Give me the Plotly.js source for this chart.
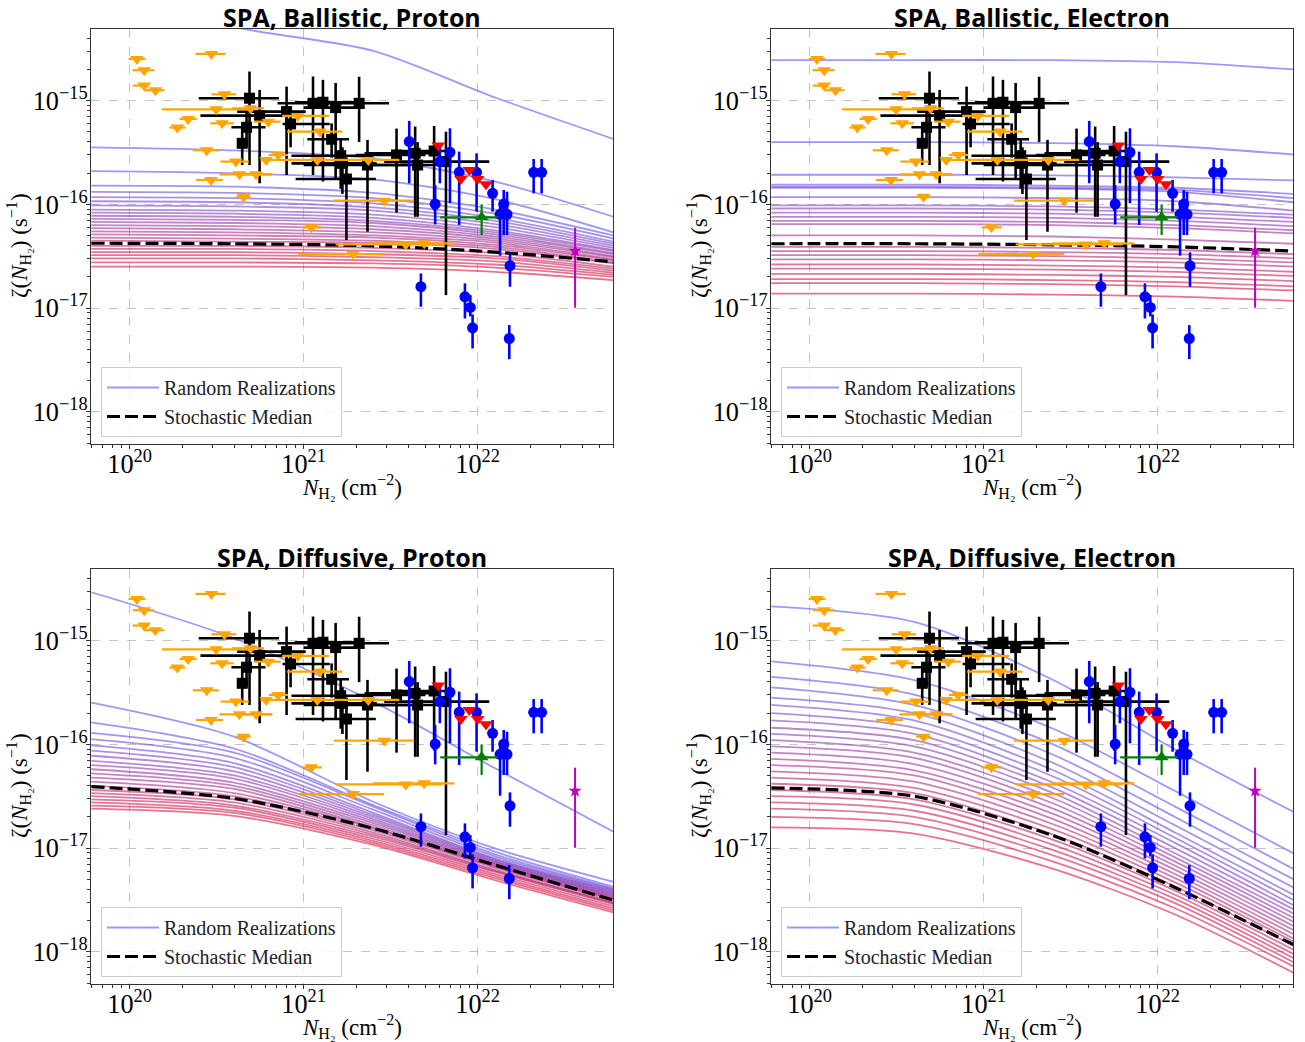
<!DOCTYPE html>
<html><head><meta charset="utf-8">
<script src="https://cdn.plot.ly/plotly-3.0.1.min.js"></script>
<style>body{margin:0;background:#fff}#chart{width:1305px;height:1042px}</style>
</head><body><div id="chart"></div>
<script>
// ---------- DATA (log10 values) ----------
const panelTitles = ["SPA, Ballistic, Proton", "SPA, Ballistic, Electron", "SPA, Diffusive, Proton", "SPA, Diffusive, Electron"];
const legendLabels = ["Random Realizations", "Stochastic Median"];
const xAxisLabel = '<i>N</i><sub>H₂</sub> (cm<sup>−2</sup>)';
const yAxisLabel = 'ζ(<i>N</i><sub>H₂</sub>) (s<sup>−1</sup>)';

// column-density nodes at which the model curves were read (log10 N_H2)
const nodeLogN = [19.78, 20.6, 21.4, 22.1, 22.78];

// Ballistic, Proton: random realizations (log10 zeta at nodeLogN), top to bottom
const curvesBallisticProton = [
  [-13.90, -14.29, -14.52, -14.97, -15.37],
  [-15.45, -15.48, -15.56, -15.78, -16.12],
  [-15.68, -15.70, -15.76, -15.95, -16.27],
  [-15.82, -15.83, -15.89, -16.05, -16.30],
  [-15.88, -15.89, -15.94, -16.09, -16.33],
  [-15.93, -15.94, -15.99, -16.13, -16.36],
  [-15.97, -15.98, -16.03, -16.16, -16.38],
  [-16.01, -16.02, -16.06, -16.19, -16.40],
  [-16.05, -16.06, -16.10, -16.22, -16.42],
  [-16.08, -16.09, -16.13, -16.25, -16.44],
  [-16.11, -16.12, -16.16, -16.27, -16.45],
  [-16.14, -16.15, -16.18, -16.29, -16.47],
  [-16.17, -16.18, -16.21, -16.31, -16.48],
  [-16.20, -16.21, -16.24, -16.33, -16.50],
  [-16.23, -16.24, -16.27, -16.35, -16.51],
  [-16.26, -16.27, -16.30, -16.37, -16.53],
  [-16.29, -16.30, -16.32, -16.39, -16.54],
  [-16.32, -16.33, -16.35, -16.41, -16.56],
  [-16.35, -16.36, -16.37, -16.43, -16.57],
  [-16.40, -16.40, -16.42, -16.47, -16.60],
  [-16.43, -16.43, -16.45, -16.50, -16.62],
  [-16.46, -16.46, -16.48, -16.52, -16.64],
  [-16.49, -16.49, -16.51, -16.55, -16.66],
  [-16.52, -16.52, -16.54, -16.58, -16.68],
  [-16.56, -16.56, -16.57, -16.61, -16.70],
  [-16.60, -16.60, -16.61, -16.65, -16.73]
];
const medianBallisticProton = [-16.375, -16.38, -16.40, -16.46, -16.555];

// Ballistic, Electron
const curvesBallisticElectron = [
  [-14.61, -14.61, -14.61, -14.63, -14.70],
  [-15.40, -15.40, -15.41, -15.44, -15.52],
  [-15.715, -15.715, -15.72, -15.74, -15.77],
  [-15.81, -15.81, -15.82, -15.84, -15.90],
  [-15.83, -15.83, -15.84, -15.86, -15.94],
  [-15.84, -15.84, -15.85, -15.88, -15.98],
  [-15.93, -15.93, -15.94, -15.97, -16.06],
  [-16.01, -16.01, -16.02, -16.05, -16.10],
  [-16.04, -16.04, -16.05, -16.08, -16.13],
  [-16.08, -16.08, -16.09, -16.12, -16.17],
  [-16.12, -16.12, -16.13, -16.16, -16.21],
  [-16.16, -16.16, -16.17, -16.20, -16.25],
  [-16.19, -16.19, -16.20, -16.23, -16.28],
  [-16.30, -16.30, -16.31, -16.34, -16.38],
  [-16.41, -16.41, -16.42, -16.44, -16.48],
  [-16.45, -16.45, -16.46, -16.48, -16.52],
  [-16.49, -16.49, -16.50, -16.52, -16.56],
  [-16.53, -16.53, -16.54, -16.56, -16.60],
  [-16.58, -16.58, -16.59, -16.61, -16.65],
  [-16.62, -16.62, -16.63, -16.65, -16.69],
  [-16.67, -16.67, -16.68, -16.70, -16.74],
  [-16.72, -16.72, -16.73, -16.75, -16.79],
  [-16.76, -16.76, -16.77, -16.79, -16.83],
  [-16.86, -16.86, -16.87, -16.89, -16.93]
];
const medianBallisticElectron = [-16.38, -16.38, -16.39, -16.41, -16.45];

// Diffusive, Proton
const curvesDiffusiveProton = [
  [-14.534, -14.977, -15.588, -16.231, -16.842],
  [-15.598, -15.926, -16.553, -17.003, -17.325],
  [-15.788, -16.04, -16.585, -17.035, -17.373],
  [-15.89, -16.08, -16.60, -17.06, -17.39],
  [-15.95, -16.13, -16.63, -17.08, -17.40],
  [-16.01, -16.18, -16.66, -17.10, -17.41],
  [-16.06, -16.22, -16.68, -17.11, -17.42],
  [-16.11, -16.26, -16.70, -17.12, -17.43],
  [-16.16, -16.30, -16.72, -17.13, -17.44],
  [-16.20, -16.33, -16.74, -17.14, -17.45],
  [-16.24, -16.37, -16.76, -17.15, -17.46],
  [-16.28, -16.40, -16.78, -17.16, -17.47],
  [-16.32, -16.43, -16.80, -17.17, -17.48],
  [-16.36, -16.47, -16.81, -17.18, -17.49],
  [-16.40, -16.50, -16.83, -17.19, -17.50],
  [-16.44, -16.53, -16.85, -17.21, -17.52],
  [-16.47, -16.56, -16.87, -17.22, -17.53],
  [-16.50, -16.59, -16.89, -17.23, -17.54],
  [-16.53, -16.61, -16.91, -17.25, -17.56],
  [-16.56, -16.64, -16.93, -17.27, -17.58],
  [-16.59, -16.66, -16.95, -17.29, -17.60],
  [-16.62, -16.69, -16.97, -17.31, -17.62]
];
const medianDiffusiveProton = [-16.408, -16.521, -16.810, -17.164, -17.502];

// Diffusive, Electron
const curvesDiffusiveElectron = [
  [-14.67, -14.82, -15.38, -16.05, -16.65],
  [-15.20, -15.38, -15.85, -16.45, -17.05],
  [-15.35, -15.52, -16.00, -16.60, -17.20],
  [-15.45, -15.62, -16.10, -16.70, -17.30],
  [-15.55, -15.70, -16.18, -16.78, -17.38],
  [-15.62, -15.77, -16.25, -16.85, -17.45],
  [-15.70, -15.84, -16.31, -16.90, -17.50],
  [-15.77, -15.90, -16.37, -16.95, -17.55],
  [-15.84, -15.96, -16.42, -17.00, -17.59],
  [-15.90, -16.02, -16.47, -17.05, -17.63],
  [-15.96, -16.08, -16.52, -17.09, -17.67],
  [-16.02, -16.13, -16.57, -17.13, -17.71],
  [-16.08, -16.19, -16.62, -17.17, -17.75],
  [-16.14, -16.25, -16.67, -17.21, -17.79],
  [-16.20, -16.30, -16.72, -17.25, -17.83],
  [-16.26, -16.36, -16.77, -17.29, -17.87],
  [-16.32, -16.42, -16.82, -17.33, -17.90],
  [-16.38, -16.47, -16.87, -17.37, -17.94],
  [-16.44, -16.53, -16.92, -17.41, -17.98],
  [-16.50, -16.58, -16.97, -17.45, -18.02],
  [-16.56, -16.64, -17.02, -17.49, -18.06],
  [-16.62, -16.70, -17.07, -17.53, -18.10],
  [-16.70, -16.77, -17.13, -17.58, -18.14],
  [-16.80, -16.86, -17.20, -17.64, -18.20]
];
const medianDiffusiveElectron = [-16.42, -16.50, -16.88, -17.38, -17.93];

// Observations (log10 N_H2, log10 zeta)
// orange upper limits with horizontal ranges
const orangeLogN   = [20.042,20.084,20.084,20.148,20.470,20.545,20.497,20.695,20.336,20.274,20.532,20.797,20.967,21.094,20.443,20.610,20.785,20.854,21.079,21.372,20.631,20.727,20.468,20.655,21.463,21.044,21.284,21.587,21.693];
const orangeLogZ   = [-14.598,-14.707,-14.855,-14.900,-14.550,-14.939,-15.084,-15.074,-15.177,-15.260,-15.219,-15.203,-15.148,-15.299,-15.479,-15.588,-15.572,-15.524,-15.572,-15.572,-15.711,-15.711,-15.765,-15.926,-15.965,-16.222,-16.479,-16.386,-16.376];
const orangeLogNLo = [19.994,20.017,20.017,20.084,20.378,20.470,20.186,20.589,20.286,20.228,20.464,20.714,20.877,20.906,20.363,20.522,20.752,20.80,20.90,21.22,20.516,20.62,20.382,20.612,21.175,20.988,20.969,21.184,21.395];
const orangeLogNHi = [20.090,20.142,20.109,20.200,20.551,20.612,20.685,20.772,20.386,20.321,20.599,20.868,21.146,21.223,20.512,20.685,20.93,20.91,21.22,21.55,20.82,20.82,20.536,20.695,21.635,21.104,21.463,21.798,21.866];

// black squares with x and y ranges
const blackLogN   = [20.689,20.747,20.672,20.647,20.902,20.925,21.054,21.111,21.184,21.161,21.213,21.223,21.246,21.319,21.367,21.534,21.641,21.655,21.750,21.818];
const blackLogZ   = [-14.977,-15.145,-15.257,-15.412,-15.106,-15.225,-15.026,-15.016,-15.068,-15.373,-15.531,-15.605,-15.756,-15.026,-15.621,-15.524,-15.508,-15.621,-15.486,-15.588];
const blackLogNLo = [20.397,20.407,20.585,20.62,20.618,20.879,20.85,20.95,21.0,21.021,20.93,20.93,20.954,21.10,21.0,21.30,21.35,21.35,21.55,21.463];
const blackLogNHi = [20.858,20.896,20.781,20.68,21.012,21.15,21.22,21.30,21.35,21.261,21.40,21.42,21.415,21.491,21.60,21.70,21.75,21.80,21.85,22.067];
const blackLogZLo = [-15.621,-15.797,-15.45,-15.621,-15.717,-15.45,-15.717,-15.78,-15.75,-15.55,-15.85,-15.90,-16.344,-15.40,-16.264,-16.08,-16.12,-16.12,-16.06,-16.875];
const blackLogZHi = [-14.720,-14.897,-15.10,-15.267,-14.865,-15.10,-14.768,-14.80,-14.83,-15.22,-15.38,-15.45,-15.55,-14.77,-15.379,-15.27,-15.25,-15.40,-15.245,-15.30];

// blue circles with vertical ranges
const blueLogN   = [21.607,21.783,21.841,21.894,21.994,22.086,22.150,22.129,22.169,21.756,22.322,22.368,21.674,21.927,21.958,21.971,22.182,22.186];
const blueLogZ   = [-15.395,-15.588,-15.498,-15.691,-15.691,-15.894,-15.997,-16.096,-16.096,-15.997,-15.691,-15.691,-16.794,-16.891,-16.994,-17.190,-17.293,-16.592];
const blueLogZLo = [-15.797,-15.797,-15.990,-16.199,-16.071,-16.071,-16.296,-16.495,-16.296,-16.193,-15.894,-15.894,-16.987,-17.100,-17.080,-17.389,-17.492,-16.794];
const blueLogZHi = [-15.196,-15.412,-15.267,-15.492,-15.508,-15.765,-15.862,-15.990,-15.878,-15.814,-15.563,-15.563,-16.666,-16.762,-16.875,-17.061,-17.164,-16.463];

// red upper limits
const redLogN = [21.774,21.952,21.904,22.000,22.048];
const redLogZ = [-15.434,-15.669,-15.756,-15.756,-15.807];

// green point
const greenLogN = [22.023], greenLogZ = [-16.125];
const greenLogNLo = [21.785], greenLogNHi = [22.115], greenLogZLo = [-16.296], greenLogZHi = [-16.0];

// magenta star
const magentaLogN = [22.560], magentaLogZ = [-16.450];
const magentaLogZLo = [-16.997], magentaLogZHi = [-16.225];

// ---------- BUILD ----------
const P = v => Math.pow(10, v);
const panelCurves = [curvesBallisticProton, curvesBallisticElectron, curvesDiffusiveProton, curvesDiffusiveElectron];
const panelMedians = [medianBallisticProton, medianBallisticElectron, medianDiffusiveProton, medianDiffusiveElectron];

function curveColor(t) {
  const a = [85, 85, 255], b = [220, 20, 60];
  const c = a.map((v, i) => Math.round(v + (b[i] - v) * t));
  return `rgb(${c[0]},${c[1]},${c[2]})`;
}
function errs(v, lo, hi) {
  return {
    plus: v.map((y, i) => P(hi[i]) - P(y)),
    minus: v.map((y, i) => P(y) - P(lo[i]))
  };
}

const traces = [];
const xNodes = nodeLogN.map(P);
for (let p = 0; p < 4; p++) {
  const xa = p === 0 ? 'x' : 'x' + (p + 1);
  const ya = p === 0 ? 'y' : 'y' + (p + 1);
  const lg = p === 0 ? 'legend' : 'legend' + (p + 1);
  const cs = panelCurves[p];
  cs.forEach((c, i) => {
    traces.push({
      type: 'scatter', mode: 'lines', x: xNodes, y: c.map(P), xaxis: xa, yaxis: ya,
      line: {color: curveColor(i / (cs.length - 1)), width: 1.8, shape: 'spline', smoothing: 0.8},
      opacity: 0.6, name: legendLabels[0], showlegend: i === 0, legend: lg, hoverinfo: 'skip'
    });
  });
  traces.push({
    type: 'scatter', mode: 'lines', x: xNodes, y: panelMedians[p].map(P), xaxis: xa, yaxis: ya,
    line: {color: '#000', width: 3.2, dash: '13px,5px', shape: 'spline', smoothing: 0.8},
    name: legendLabels[1], showlegend: true, legend: lg, hoverinfo: 'skip'
  });
  const bx = errs(blackLogN, blackLogNLo, blackLogNHi), by = errs(blackLogZ, blackLogZLo, blackLogZHi);
  traces.push({
    type: 'scatter', mode: 'markers', x: blackLogN.map(P), y: blackLogZ.map(P), xaxis: xa, yaxis: ya,
    marker: {symbol: 'square', size: 11, color: '#000'}, showlegend: false,
    error_x: {type: 'data', symmetric: false, array: bx.plus, arrayminus: bx.minus, color: '#000', thickness: 2.6, width: 0},
    error_y: {type: 'data', symmetric: false, array: by.plus, arrayminus: by.minus, color: '#000', thickness: 2.6, width: 0}
  });
  const ox = errs(orangeLogN, orangeLogNLo, orangeLogNHi);
  traces.push({
    type: 'scatter', mode: 'markers', x: orangeLogN.map(P), y: orangeLogZ.map(P), xaxis: xa, yaxis: ya,
    marker: {symbol: 'triangle-down', size: 12, color: '#FFA500'}, showlegend: false,
    error_x: {type: 'data', symmetric: false, array: ox.plus, arrayminus: ox.minus, color: '#FFA500', thickness: 2.2, width: 0}
  });
  const ey = errs(blueLogZ, blueLogZLo, blueLogZHi);
  traces.push({
    type: 'scatter', mode: 'markers', x: blueLogN.map(P), y: blueLogZ.map(P), xaxis: xa, yaxis: ya,
    marker: {symbol: 'circle', size: 11, color: '#0000FF'}, showlegend: false,
    error_y: {type: 'data', symmetric: false, array: ey.plus, arrayminus: ey.minus, color: '#0000FF', thickness: 2.6, width: 0}
  });
  traces.push({
    type: 'scatter', mode: 'markers', x: redLogN.map(P), y: redLogZ.map(P), xaxis: xa, yaxis: ya,
    marker: {symbol: 'triangle-down', size: 12, color: '#FF0000'}, showlegend: false
  });
  const gx = errs(greenLogN, greenLogNLo, greenLogNHi), gy = errs(greenLogZ, greenLogZLo, greenLogZHi);
  traces.push({
    type: 'scatter', mode: 'markers', x: greenLogN.map(P), y: greenLogZ.map(P), xaxis: xa, yaxis: ya,
    marker: {symbol: 'triangle-up', size: 12, color: '#008000'}, showlegend: false,
    error_x: {type: 'data', symmetric: false, array: gx.plus, arrayminus: gx.minus, color: '#008000', thickness: 2.2, width: 0},
    error_y: {type: 'data', symmetric: false, array: gy.plus, arrayminus: gy.minus, color: '#008000', thickness: 2.2, width: 0}
  });
  const my = errs(magentaLogZ, magentaLogZLo, magentaLogZHi);
  traces.push({
    type: 'scatter', mode: 'markers', x: magentaLogN.map(P), y: magentaLogZ.map(P), xaxis: xa, yaxis: ya,
    marker: {symbol: 'star', size: 10, color: '#BF00BF'}, showlegend: false,
    error_y: {type: 'data', symmetric: false, array: my.plus, arrayminus: my.minus, color: '#BF00BF', thickness: 2, width: 0}
  });
}

const W = 1305, H = 1042;
const colX = [[91, 613], [771, 1293]];
const rowY = [[29, 444], [569, 984]];
const serif = 'Liberation Serif, DejaVu Serif, serif';

function axisCommon() {
  return {
    type: 'log', dtick: 1, exponentformat: 'power', showexponent: 'all',
    tickfont: {family: serif, size: 21, color: '#000'},
    ticks: 'outside', ticklen: 4, tickwidth: 1, tickcolor: '#333',
    showline: true, mirror: true, linecolor: '#333', linewidth: 1.2,
    showgrid: true, gridcolor: '#b5b5b5', griddash: 'dash', gridwidth: 0.8, zeroline: false,
    minor: {ticks: 'outside', ticklen: 2.5, tickcolor: '#333', dtick: 'D1', showgrid: false}
  };
}
function xAxis(col, row, anchor) {
  return Object.assign(axisCommon(), {
    range: [19.778, 22.778], domain: [colX[col][0] / W, colX[col][1] / W], anchor, ticklabelstandoff: -7
  });
}
function yAxis(col, row, anchor) {
  return Object.assign(axisCommon(), {
    range: [-18.31, -14.31], domain: [1 - rowY[row][1] / H, 1 - rowY[row][0] / H], anchor, ticklabelstandoff: -6
  });
}

function legendAt(col, row) {
  return {
    x: (colX[col][0] + 10) / W, y: 1 - (rowY[row][0] + 338) / H, xanchor: 'left', yanchor: 'top',
    bgcolor: 'rgba(255,255,255,0.8)', bordercolor: '#cccccc', borderwidth: 1,
    font: {family: serif, size: 20, color: '#222'}, tracegroupgap: 0, itemwidth: 52
  };
}

const annotations = [];
panelTitles.forEach((t, p) => {
  const col = p % 2, row = Math.floor(p / 2);
  const cx = (colX[col][0] + colX[col][1]) / 2;
  annotations.push({
    text: '<b>' + t + '</b>', xref: 'paper', yref: 'paper', showarrow: false,
    x: cx / W, y: 1 - (rowY[row][0] - 30) / H, borderpad: 0,
    xanchor: 'center', yanchor: 'top', font: {family: 'Open Sans, Lato, sans-serif', size: 25, color: '#000'}
  });
  annotations.push({
    text: xAxisLabel, xref: 'paper', yref: 'paper', showarrow: false,
    x: cx / W, y: 1 - (rowY[row][1] + 42) / H, xanchor: 'center', yanchor: 'middle',
    font: {family: serif, size: 23, color: '#000'}
  });
  annotations.push({
    text: yAxisLabel, xref: 'paper', yref: 'paper', showarrow: false, textangle: -90,
    x: (colX[col][0] - 73) / W, y: 1 - (rowY[row][0] + 217) / H, xanchor: 'center', yanchor: 'middle',
    font: {family: serif, size: 23, color: '#000'}
  });
});

const layout = {
  width: W, height: H, margin: {l: 0, r: 0, t: 0, b: 0},
  paper_bgcolor: '#fff', plot_bgcolor: '#fff',
  xaxis: xAxis(0, 0, 'y'), yaxis: yAxis(0, 0, 'x'),
  xaxis2: xAxis(1, 0, 'y2'), yaxis2: yAxis(1, 0, 'x2'),
  xaxis3: xAxis(0, 1, 'y3'), yaxis3: yAxis(0, 1, 'x3'),
  xaxis4: xAxis(1, 1, 'y4'), yaxis4: yAxis(1, 1, 'x4'),
  legend: legendAt(0, 0), legend2: legendAt(1, 0), legend3: legendAt(0, 1), legend4: legendAt(1, 1),
  annotations, showlegend: true
};

Plotly.newPlot('chart', traces, layout, {staticPlot: true, displayModeBar: false});
</script></body></html>
